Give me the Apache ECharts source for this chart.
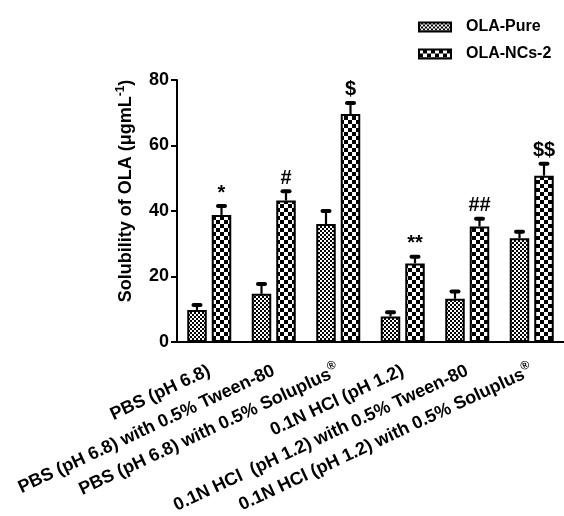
<!DOCTYPE html>
<html><head><meta charset="utf-8">
<script src="https://cdn.jsdelivr.net/npm/echarts@6/dist/echarts.min.js"></script>
<style>html,body{margin:0;padding:0;background:#fff}#c{width:564px;height:516px}</style>
</head><body><div id="c"></div>
<script>
var categories = [
  'PBS (pH 6.8)',
  'PBS (pH 6.8) with 0.5% Tween-80',
  'PBS (pH 6.8) with 0.5% Soluplus{sup|®}',
  '0.1N HCl (pH 1.2)',
  '0.1N HCl  (pH 1.2) with 0.5% Tween-80',
  '0.1N HCl (pH 1.2) with 0.5% Soluplus{sup|®}'
];
var seriesNames = ['OLA-Pure', 'OLA-NCs-2'];
var pureValues = [9.8, 14.7, 36.0, 7.8, 13.2, 31.7];
var pureErrors = [1.5, 3.0, 4.0, 1.3, 2.2, 2.0];
var ncValues = [38.8, 43.2, 69.6, 24.0, 35.3, 50.8];
var ncErrors = [2.7, 2.8, 3.4, 2.0, 2.3, 3.6];
var ncMarks = ['*', '#', '$', '**', '##', '$$'];
var yTicks = [0, 20, 40, 60, 80];

var FONT = '"Liberation Sans", Arial, sans-serif';

function makePattern(size, cell) {
  var cv = document.createElement('canvas');
  cv.width = size; cv.height = size;
  var ctx = cv.getContext('2d');
  ctx.fillStyle = '#000'; ctx.fillRect(0, 0, size, size);
  ctx.fillStyle = '#fff';
  ctx.fillRect(0, 0, cell, cell);
  ctx.fillRect(size / 2, size / 2, cell, cell);
  return cv;
}
var purePat = { image: makePattern(4, 2), repeat: 'repeat' };
var ncPat = { image: makePattern(8, 4), repeat: 'repeat' };

var BW = 19.5, GAP = 5, OFF = (BW + GAP) / 2;

function errSeries(vals, errs, sign, marks) {
  return {
    type: 'custom',
    z: 3,
    silent: true,
    data: vals.map(function (v, i) { return [i, v, errs[i]]; }),
    renderItem: function (params, api) {
      var i = api.value(0), v = api.value(1), e = api.value(2);
      var p0 = api.coord([i, v]);
      var p1 = api.coord([i, v + e]);
      var x = p0[0] + sign * OFF;
      var ch = [
        { type: 'line', shape: { x1: x, y1: p0[1], x2: x, y2: p1[1] }, style: { stroke: '#000', lineWidth: 2.2 } },
        { type: 'rect', shape: { x: x - 5.5, y: p1[1] - 2, width: 11, height: 4, r: 2 }, style: { fill: '#000' } }
      ];
      if (marks) {
        ch.push({ type: 'text', style: { text: marks[params.dataIndex], x: x, y: p1[1] - 3, align: 'center', verticalAlign: 'bottom', font: 'bold 20px ' + FONT, fill: '#000' } });
      }
      return { type: 'group', children: ch };
    }
  };
}

var chart = echarts.init(document.getElementById('c'), null, { renderer: 'canvas' });
chart.setOption({
  backgroundColor: '#fff',
  animation: false,
  grid: { left: 177, top: 80, width: 392, height: 262, containLabel: false },
  legend: {
    orient: 'vertical', left: 413, top: 14, itemWidth: 32, itemHeight: 9, itemGap: 11, icon: 'rect',
    data: seriesNames,
    textStyle: { fontFamily: FONT, fontWeight: 'bold', fontSize: 16, color: '#000', padding: [0, 0, 0, 10] }
  },
  xAxis: {
    type: 'category', data: categories,
    axisLine: { lineStyle: { color: '#000', width: 2 } },
    axisTick: { alignWithLabel: true, length: 6, lineStyle: { color: '#000', width: 2 } },
    axisLabel: {
      interval: 0, rotate: 25, margin: 28, color: '#000',
      fontFamily: FONT, fontWeight: 'bold', fontSize: 18,
      rich: { sup: { fontSize: 12, fontWeight: 'bold', fontFamily: FONT, verticalAlign: 'top', padding: [0, 0, 13, 0] } }
    }
  },
  yAxis: {
    type: 'value', min: yTicks[0], max: yTicks[yTicks.length - 1], interval: 20,
    name: 'Solubility of OLA (μgmL{sup|-1})', nameLocation: 'middle', nameGap: 40, nameRotate: 90,
    nameTextStyle: { fontFamily: FONT, fontWeight: 'bold', fontSize: 18, color: '#000', padding: [0, 0, 0, 40],
      rich: { sup: { fontSize: 12, fontWeight: 'bold', fontFamily: FONT, padding: [0, 0, 10, 0] } } },
    splitLine: { show: false },
    axisLine: { show: true, lineStyle: { color: '#000', width: 2 } },
    axisTick: { show: true, length: 6, lineStyle: { color: '#000', width: 2 } },
    axisLabel: { color: '#000', fontFamily: FONT, fontWeight: 'bold', fontSize: 18, margin: 8 }
  },
  series: [
    { name: seriesNames[0], type: 'bar', data: pureValues, barWidth: BW, barGap: (GAP / BW * 100) + '%', z: 2,
      itemStyle: { color: purePat, borderColor: '#000', borderWidth: 2 } },
    { name: seriesNames[1], type: 'bar', data: ncValues, barWidth: BW, z: 2,
      itemStyle: { color: ncPat, borderColor: '#000', borderWidth: 2 } },
    errSeries(pureValues, pureErrors, -1, null),
    errSeries(ncValues, ncErrors, 1, ncMarks)
  ]
});
</script></body></html>
